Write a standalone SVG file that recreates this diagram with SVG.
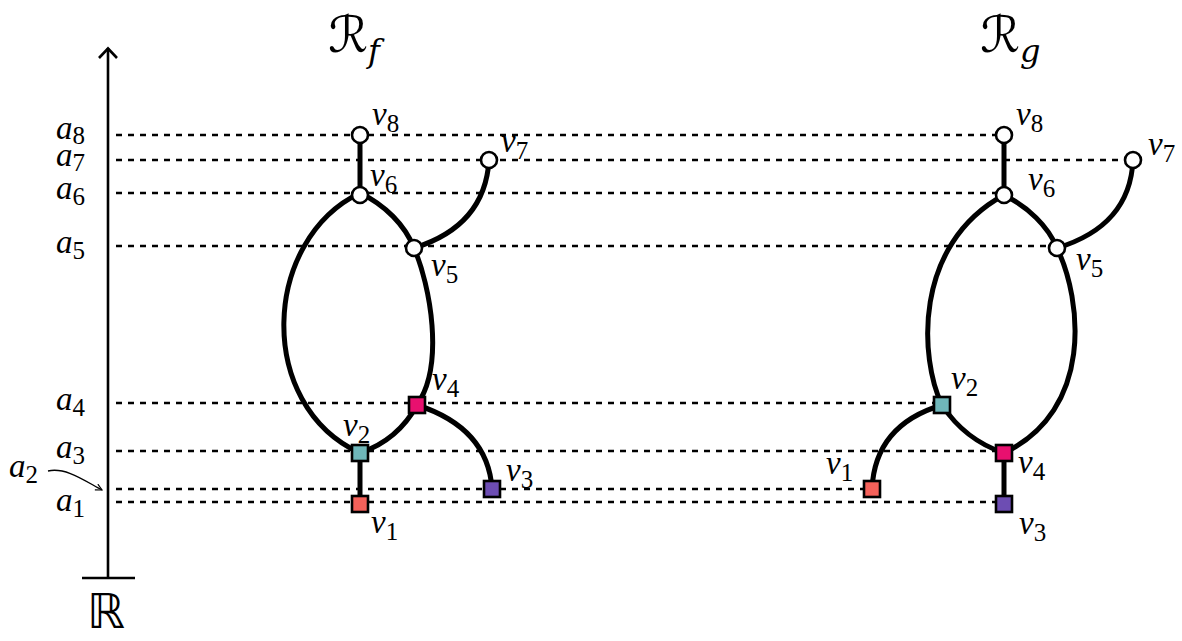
<svg xmlns="http://www.w3.org/2000/svg" width="1182" height="641" viewBox="0 0 1182 641">
<style>
.dash{stroke:#000;stroke-width:2.6;stroke-dasharray:6 6;fill:none}
.edge{stroke:#000;stroke-width:5;fill:none;stroke-linecap:round}
.circ{fill:#fff;stroke:#000;stroke-width:2.6}
.sq{stroke:#000;stroke-width:2.6}
.lbl{font-family:"Liberation Serif","DejaVu Serif",serif;font-size:33px;fill:#000}
.it{font-style:italic}
.sub{font-size:25px}
.title{font-family:"DejaVu Serif","DejaVu Sans",serif;font-size:50px;fill:#000}
</style>
<defs>
<marker id="ah" viewBox="0 0 10 10" refX="9" refY="5" markerWidth="8" markerHeight="8" orient="auto" markerUnits="userSpaceOnUse">
<path d="M1,1 L9,5 L1,9" fill="none" stroke="#000" stroke-width="1.4"/>
</marker>
</defs>
<rect width="1182" height="641" fill="#fff"/>

<g id="axis">
<line x1="108" y1="48" x2="108" y2="578" stroke="#000" stroke-width="2.6"/>
<path d="M99,58 L108,48.5 L117,58" fill="none" stroke="#000" stroke-width="2.6"/>
<line x1="82" y1="578" x2="135" y2="578" stroke="#000" stroke-width="2.6"/>
<text x="87" y="628" style="font-family:'DejaVu Sans',sans-serif;font-size:48px">ℝ</text>
<text x="56" y="139" class="lbl"><tspan class="it">a</tspan><tspan class="sub" dy="5">8</tspan></text>
<text x="56" y="166" class="lbl"><tspan class="it">a</tspan><tspan class="sub" dy="5">7</tspan></text>
<text x="56" y="199" class="lbl"><tspan class="it">a</tspan><tspan class="sub" dy="6">6</tspan></text>
<text x="56" y="253" class="lbl"><tspan class="it">a</tspan><tspan class="sub" dy="6">5</tspan></text>
<text x="56" y="410" class="lbl"><tspan class="it">a</tspan><tspan class="sub" dy="6">4</tspan></text>
<text x="56" y="458" class="lbl"><tspan class="it">a</tspan><tspan class="sub" dy="6">3</tspan></text>
<text x="9" y="477" class="lbl"><tspan class="it">a</tspan><tspan class="sub" dy="6">2</tspan></text>
<text x="56" y="511" class="lbl"><tspan class="it">a</tspan><tspan class="sub" dy="6">1</tspan></text>
<path d="M48,471 C 66,467 85,481 102,490" fill="none" stroke="#000" stroke-width="1.4" marker-end="url(#ah)"/>
</g>

<g id="levels">
<line class="dash" x1="116" y1="135" x2="1004" y2="135"/>
<line class="dash" x1="116" y1="160" x2="1133" y2="160"/>
<line class="dash" x1="116" y1="193" x2="1004" y2="193"/>
<line class="dash" x1="116" y1="246" x2="1057" y2="246"/>
<line class="dash" x1="116" y1="403" x2="942" y2="403"/>
<line class="dash" x1="116" y1="451" x2="1004" y2="451"/>
<line class="dash" x1="116" y1="489" x2="872" y2="489"/>
<line class="dash" x1="116" y1="502" x2="1004" y2="502"/>
</g>

<g id="titles">
<text x="328" y="52" class="title" font-style="italic">ℛ<tspan font-size="32" dy="10">f</tspan></text>
<text x="980" y="52" class="title" font-style="italic">ℛ<tspan font-size="32" dy="10">g</tspan></text>
</g>

<g id="connectors">
<!-- left Rf -->
<path class="edge" d="M360,135 L360,193"/>
<path class="edge" d="M360,193 C 262,240 255,405 360,453"/>
<path class="edge" d="M360,193 C 385,205 405,225 414,248 C 430,285 445,365 417,405"/>
<path class="edge" d="M414,248 Q 485,226 489,160"/>
<path class="edge" d="M417,405 Q 398,440 360,453"/>
<path class="edge" d="M417,405 Q 488,428 492,489"/>
<path class="edge" d="M360,453 L360,504"/>
<!-- right Rg -->
<path class="edge" d="M1004,135 L1004,195"/>
<path class="edge" d="M1004,195 C 912,245 920,360 942,405"/>
<path class="edge" d="M1004,195 C 1028,207 1048,226 1057,248 C 1082,300 1094,410 1004,453"/>
<path class="edge" d="M1057,248 Q 1130,226 1133,160"/>
<path class="edge" d="M942,405 Q 965,440 1004,453"/>
<path class="edge" d="M942,405 Q 875,425 872,489"/>
<path class="edge" d="M1004,453 L1004,504"/>
</g>

<g id="f-v8"><circle class="circ" cx="360" cy="135" r="8"/><text x="372" y="125" class="lbl"><tspan class="it">v</tspan><tspan class="sub" dy="7">8</tspan></text></g>
<g id="f-v7"><circle class="circ" cx="489" cy="160" r="8"/><text x="501" y="152" class="lbl"><tspan class="it">v</tspan><tspan class="sub" dy="7">7</tspan></text></g>
<g id="f-v6"><circle class="circ" cx="360" cy="195" r="8"/><text x="370" y="186" class="lbl"><tspan class="it">v</tspan><tspan class="sub" dy="7">6</tspan></text></g>
<g id="f-v5"><circle class="circ" cx="414" cy="248" r="8"/><text x="431" y="276" class="lbl"><tspan class="it">v</tspan><tspan class="sub" dy="7">5</tspan></text></g>
<g id="f-v4"><rect class="sq" x="409" y="397" width="16" height="16" fill="#e8106f"/><text x="432" y="390" class="lbl"><tspan class="it">v</tspan><tspan class="sub" dy="7">4</tspan></text></g>
<g id="f-v2"><rect class="sq" x="352" y="445" width="16" height="16" fill="#6fb7ba"/><text x="343" y="436" class="lbl"><tspan class="it">v</tspan><tspan class="sub" dy="7">2</tspan></text></g>
<g id="f-v1"><rect class="sq" x="352" y="496" width="16" height="16" fill="#f5615a"/><text x="371" y="533" class="lbl"><tspan class="it">v</tspan><tspan class="sub" dy="7">1</tspan></text></g>
<g id="f-v3"><rect class="sq" x="484" y="481" width="16" height="16" fill="#6d4db3"/><text x="506" y="481" class="lbl"><tspan class="it">v</tspan><tspan class="sub" dy="7">3</tspan></text></g>

<g id="g-v8"><circle class="circ" cx="1004" cy="135" r="8"/><text x="1016" y="125" class="lbl"><tspan class="it">v</tspan><tspan class="sub" dy="7">8</tspan></text></g>
<g id="g-v7"><circle class="circ" cx="1133" cy="160" r="8"/><text x="1148" y="155" class="lbl"><tspan class="it">v</tspan><tspan class="sub" dy="7">7</tspan></text></g>
<g id="g-v6"><circle class="circ" cx="1004" cy="195" r="8"/><text x="1028" y="190" class="lbl"><tspan class="it">v</tspan><tspan class="sub" dy="7">6</tspan></text></g>
<g id="g-v5"><circle class="circ" cx="1057" cy="248" r="8"/><text x="1076" y="270" class="lbl"><tspan class="it">v</tspan><tspan class="sub" dy="7">5</tspan></text></g>
<g id="g-v2"><rect class="sq" x="934" y="397" width="16" height="16" fill="#6fb7ba"/><text x="951" y="389" class="lbl"><tspan class="it">v</tspan><tspan class="sub" dy="7">2</tspan></text></g>
<g id="g-v4"><rect class="sq" x="996" y="445" width="16" height="16" fill="#e8106f"/><text x="1018" y="473" class="lbl"><tspan class="it">v</tspan><tspan class="sub" dy="7">4</tspan></text></g>
<g id="g-v1"><rect class="sq" x="864" y="481" width="16" height="16" fill="#f5615a"/><text x="826" y="474" class="lbl"><tspan class="it">v</tspan><tspan class="sub" dy="7">1</tspan></text></g>
<g id="g-v3"><rect class="sq" x="996" y="496" width="16" height="16" fill="#6d4db3"/><text x="1019" y="534" class="lbl"><tspan class="it">v</tspan><tspan class="sub" dy="7">3</tspan></text></g>
</svg>
